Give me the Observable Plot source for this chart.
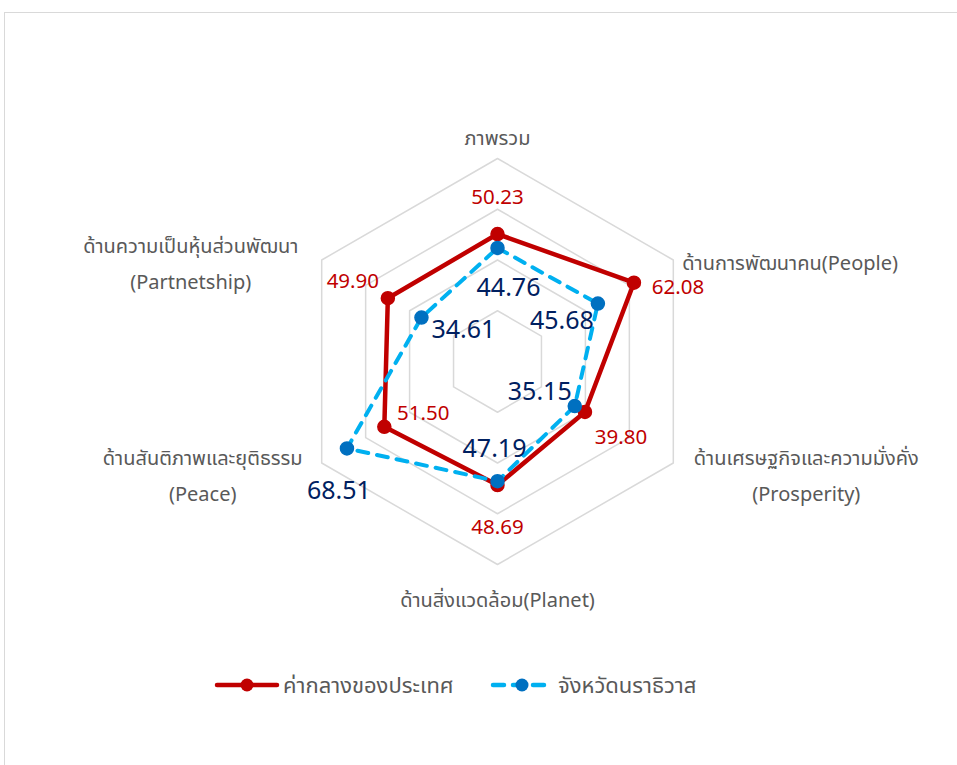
<!DOCTYPE html>
<html>
<head>
<meta charset="utf-8">
<script src="https://cdn.jsdelivr.net/npm/d3@7"></script>
<script src="https://cdn.jsdelivr.net/npm/@observablehq/plot@0.6"></script>
<style>
  html, body { margin: 0; padding: 0; background: #fff; }
  body { width: 957px; height: 765px; position: relative; overflow: hidden;
         font-family: Tahoma, "Noto Sans Thai", "Noto Sans", "DejaVu Sans", sans-serif; }
  #frame { position: absolute; left: 4px; top: 12px; width: 1000px; height: 800px;
           border: 1px solid #D9D9D9; box-sizing: border-box; }
  #chart { position: absolute; left: 0; top: 0; }
  #legend { position: absolute; left: 0; top: 664px; width: 957px; height: 44px; }
</style>
</head>
<body>
<div id="frame"></div>
<div id="chart"></div>
<svg id="legend" width="957" height="44"></svg>
<script>
// ---- data ----
const categories = [
  "ภาพรวม",
  "ด้านการพัฒนาคน(People)",
  "ด้านเศรษฐกิจและความมั่งคั่ง\n(Prosperity)",
  "ด้านสิ่งแวดล้อม(Planet)",
  "ด้านสันติภาพและยุติธรรม\n(Peace)",
  "ด้านความเป็นหุ้นส่วนพัฒนา\n(Partnetship)"
];
const seriesNames = ["ค่ากลางของประเทศ", "จังหวัดนราธิวาส"];
const national   = [50.23, 62.08, 39.80, 48.69, 51.50, 49.90];
const narathiwat = [44.76, 45.68, 35.15, 47.19, 68.51, 34.61];
const ringLevels = [20, 40, 60, 80];

// ---- styling config (offsets in px) ----
const nationalLabelOffset   = [[0,-37],[44,5],[36,25],[0,42],[39,-13],[-35,-17]];
const narathiwatLabelOffset = [[11,40],[-36,17],[-35,-14],[-3,-32],[-8,43],[42,12]];
const catLabelStyle = [
  {dx:0,   dy:-25, anchor:"middle"},
  {dx:9,   dy:-2,  anchor:"start"},
  {dx:133, dy:8,   anchor:"middle"},
  {dx:0,   dy:31,  anchor:"middle"},
  {dx:-119,dy:8,   anchor:"middle"},
  {dx:-131,dy:-1,  anchor:"middle"}
];
const RED = "#C00000", RED_DOT = "#C00000";
const BLUE = "#00B0F0", BLUE_DOT = "#0070C0", NAVY = "#002060", GRAY = "#595959";

// ---- geometry helpers (data space) ----
const n = categories.length;
const ang = i => i * 2 * Math.PI / n;
const px = (v, i) => v * Math.sin(ang(i));
const py = (v, i) => v * Math.cos(ang(i));

const rings = ringLevels.flatMap(r => categories.map((c, i) => ({r, i, x: px(r, i), y: py(r, i)})));
const ser = (vals, name) => vals.map((v, i) => ({name, v, i, x: px(v, i), y: py(v, i)}));
const natData = ser(national, seriesNames[0]);
const narData = ser(narathiwat, seriesNames[1]);
const outer = categories.map((c, i) => ({c, i, x: px(80, i), y: py(80, i)}));

const K = 2.5375, CX = 497, CY = 361;
const marks = [];
marks.push(Plot.line(rings, {x: "x", y: "y", z: "r", curve: "linear-closed", stroke: "#D9D9D9", strokeWidth: 1.5}));
marks.push(Plot.line(natData, {x: "x", y: "y", curve: "linear-closed", stroke: RED, strokeWidth: 4.5, strokeLinejoin: "round"}));
marks.push(Plot.dot(natData, {x: "x", y: "y", r: 6.5, fill: RED_DOT, stroke: RED_DOT}));
marks.push(Plot.line(narData, {x: "x", y: "y", curve: "linear-closed", stroke: BLUE, strokeWidth: 4, strokeDasharray: "11,9", strokeLinecap: "round"}));
marks.push(Plot.dot(narData, {x: "x", y: "y", r: 6.5, fill: BLUE_DOT, stroke: BLUE_DOT}));
natData.forEach((d, i) => marks.push(Plot.text([d], {x: "x", y: "y", text: d => d.v.toFixed(2),
  dx: nationalLabelOffset[i][0], dy: nationalLabelOffset[i][1], fill: RED, fontSize: 20.5})));
narData.forEach((d, i) => marks.push(Plot.text([d], {x: "x", y: "y", text: d => d.v.toFixed(2),
  dx: narathiwatLabelOffset[i][0], dy: narathiwatLabelOffset[i][1], fill: NAVY, fontSize: 25})));
outer.forEach((d, i) => marks.push(Plot.text([d], {x: "x", y: "y", text: "c",
  dx: catLabelStyle[i].dx, dy: catLabelStyle[i].dy, textAnchor: catLabelStyle[i].anchor,
  lineAnchor: "middle", lineHeight: 1.8, fill: GRAY, fontSize: 20})));

const chart = Plot.plot({
  width: 957, height: 650,
  x: {domain: [-100, 100], range: [CX - 100 * K, CX + 100 * K], axis: null},
  y: {domain: [-100, 100], range: [CY + 100 * K, CY - 100 * K], axis: null},
  style: {fontFamily: 'Tahoma, "Noto Sans Thai", "Noto Sans", sans-serif', background: "transparent", overflow: "visible"},
  marks
});
document.getElementById("chart").appendChild(chart);

// ---- legend ----
const lg = d3.select("#legend");
const ly = 21;
lg.append("line").attr("x1", 217).attr("x2", 277).attr("y1", ly).attr("y2", ly)
  .attr("stroke", RED).attr("stroke-width", 4.5).attr("stroke-linecap", "round");
lg.append("circle").attr("cx", 247).attr("cy", ly).attr("r", 6.5).attr("fill", RED_DOT);
lg.append("text").attr("x", 283).attr("y", ly).attr("dy", "0.35em").attr("fill", GRAY)
  .attr("font-size", 22).text(seriesNames[0]);
lg.append("line").attr("x1", 493).attr("x2", 547).attr("y1", ly).attr("y2", ly)
  .attr("stroke", BLUE).attr("stroke-width", 4.5).attr("stroke-linecap", "round").attr("stroke-dasharray", "11,9");
lg.append("circle").attr("cx", 522).attr("cy", ly).attr("r", 6.5).attr("fill", BLUE_DOT);
lg.append("text").attr("x", 558).attr("y", ly).attr("dy", "0.35em").attr("fill", GRAY)
  .attr("font-size", 22).text(seriesNames[1]);
</script>
</body>
</html>
